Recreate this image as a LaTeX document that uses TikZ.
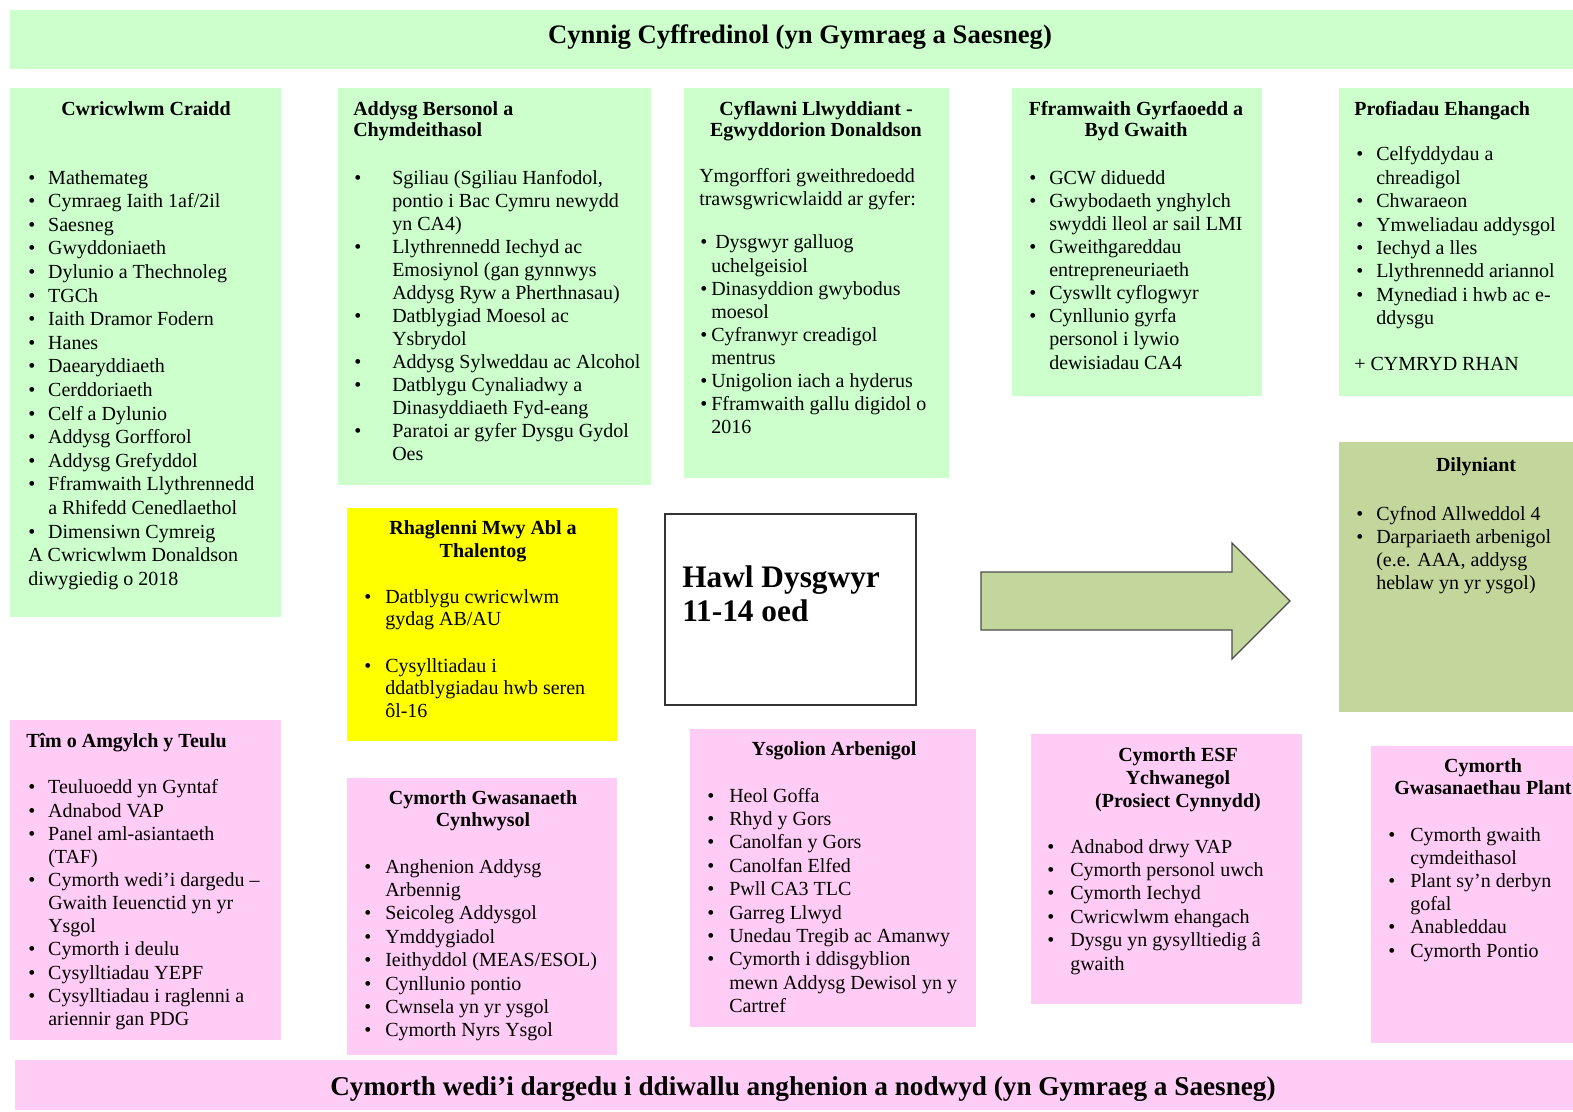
\documentclass[tikz,border=0pt]{standalone}
\usepackage{fontspec}
\setmainfont{Liberation Serif}
\newlength\px \setlength\px{0.75pt}
\newlength\bw
\newcommand\B{\makebox[\bw][l]{\textbullet}}
\newcommand\C{\hspace*{\bw}}
\newcommand\setbw[1]{\global\bw=#1\px\relax}
\definecolor{lgreen}{HTML}{CCFFCC}
\definecolor{olivegr}{HTML}{C3D69B}
\definecolor{lpink}{HTML}{FFCCF5}
\definecolor{yel}{HTML}{FFFF00}
\begin{document}
\begin{tikzpicture}[x=0.75pt,y=-0.75pt,
  box/.style={anchor=north west, inner sep=0, outer sep=0, draw=none},
  txt/.style={anchor=base west, inner sep=0, align=left, font=\fontsize{15}{#1}\selectfont},
  txt/.default=17.5,
  hd/.style={anchor=base, inner sep=0, align=center, font=\bfseries\fontsize{15}{#1}\selectfont},
  hd/.default=16,
  hdl/.style={anchor=base west, inner sep=0, align=left, font=\bfseries\fontsize{15}{#1}\selectfont},
  hdl/.default=16]
\useasboundingbox (0,0) rectangle (1573,1112);
\begin{scope}
\clip (0,0) rectangle (1573,1112);
% boxes
\node[box, fill=lgreen, minimum width=1580\px, minimum height=59\px] (b0) at (10,10) {};
\node[box, fill=lgreen, minimum width=271\px, minimum height=529\px] (b1) at (10,88) {};
\node[box, fill=lgreen, minimum width=313\px, minimum height=397\px] (b2) at (338,88) {};
\node[box, fill=lgreen, minimum width=265\px, minimum height=390\px] (b3) at (684,88) {};
\node[box, fill=lgreen, minimum width=250\px, minimum height=308\px] (b4) at (1012,88) {};
\node[box, fill=lgreen, minimum width=250\px, minimum height=308\px] (b5) at (1339,88) {};
\node[box, fill=olivegr, minimum width=250\px, minimum height=270\px] (b6) at (1339,442) {};
\node[box, fill=yel, minimum width=270\px, minimum height=233\px] (b7) at (347,508) {};
\node[box, fill=white, draw=black!80, line width=1.3\px, minimum width=251\px, minimum height=191\px] (b8) at (665,514) {};
\node[box, fill=lpink, minimum width=271\px, minimum height=320\px] (b9) at (10,720) {};
\node[box, fill=lpink, minimum width=270\px, minimum height=277\px] (b10) at (347,778) {};
\node[box, fill=lpink, minimum width=286\px, minimum height=298\px] (b11) at (690,729) {};
\node[box, fill=lpink, minimum width=271\px, minimum height=270\px] (b12) at (1031,734) {};
\node[box, fill=lpink, minimum width=230\px, minimum height=297\px] (b13) at (1371,746) {};
\node[box, fill=lpink, minimum width=1580\px, minimum height=50\px] (b14) at (15,1060) {};
% block arrow
\draw[fill=olivegr, draw=black!70, line width=1.3\px, line join=miter]
  (981,572) -- (1232,572) -- (1232,543) -- (1290,601) -- (1232,659) -- (1232,630) -- (981,630) -- cycle;
% Hawl
\node[anchor=base west, inner sep=0, align=left, font=\bfseries\fontsize{23.5}{25.5}\selectfont] (t8) at (682,621.5) {Hawl Dysgwyr\\11-14 oed};
\begin{scope}[shift={(0,2)}]
% banners
\node[anchor=base, inner sep=0, font=\bfseries\fontsize{20}{24}\selectfont] (t0) at (800,42) {Cynnig Cyffredinol (yn Gymraeg a Saesneg)};
\node[anchor=base, inner sep=0, font=\bfseries\fontsize{20.4}{24}\selectfont] (t14) at (803,1093) {Cymorth wedi’i dargedu i ddiwallu anghenion a nodwyd (yn Gymraeg a Saesneg)};
% box 1
\node[hd] (h1) at (146,114) {Cwricwlwm Craidd};
\node[txt=17.7] (l1) at (28,583.2) {\setbw{20}\B Mathemateg\\
\B Cymraeg Iaith 1af/2il\\
\B Saesneg\\
\B Gwyddoniaeth\\
\B Dylunio a Thechnoleg\\
\B TGCh\\
\B Iaith Dramor Fodern\\
\B Hanes\\
\B Daearyddiaeth\\
\B Cerddoriaeth\\
\B Celf a Dylunio\\
\B Addysg Gorfforol\\
\B Addysg Grefyddol\\
\B Fframwaith Llythrennedd\\
\C a Rhifedd Cenedlaethol\\
\B Dimensiwn Cymreig\\
A Cwricwlwm Donaldson\\
diwygiedig o 2018};
% box 2
\node[hdl=15.75] (h2) at (353,135) {Addysg Bersonol a\\Chymdeithasol};
\node[txt=17.3] (l2) at (354,458.8) {\setbw{38}\B Sgiliau (Sgiliau Hanfodol,\\
\C pontio i Bac Cymru newydd\\
\C yn CA4)\\
\B Llythrennedd Iechyd ac\\
\C Emosiynol (gan gynnwys\\
\C Addysg Ryw a Pherthnasau)\\
\B Datblygiad Moesol ac\\
\C Ysbrydol\\
\B Addysg Sylweddau ac Alcohol\\
\B Datblygu Cynaliadwy a\\
\C Dinasyddiaeth Fyd-eang\\
\B Paratoi ar gyfer Dysgu Gydol\\
\C Oes};
% box 3
\node[hd=15.75] (h3) at (816,135) {Cyflawni Llwyddiant -\\Egwyddorion Donaldson};
\node[txt=17.3] (p3) at (699,203.1) {Ymgorffori gweithredoedd\\trawsgwricwlaidd ar gyfer:};
\node[txt=17.3] (l3) at (700,431.5) {\setbw{11}\B\hspace*{4\px}Dysgwyr galluog\\
\C uchelgeisiol\\
\B Dinasyddion gwybodus\\
\C moesol\\
\B Cyfranwyr creadigol\\
\C mentrus\\
\B Unigolion iach a hyderus\\
\B Fframwaith gallu digidol o\\
\C 2016};
% box 4
\node[hd=15.75] (h4) at (1136,135) {Fframwaith Gyrfaoedd a\\Byd Gwaith};
\node[txt=17.35] (l4) at (1029,367.1) {\setbw{20}\B GCW diduedd\\
\B Gwybodaeth ynghylch\\
\C swyddi lleol ar sail LMI\\
\B Gweithgareddau\\
\C entrepreneuriaeth\\
\B Cyswllt cyflogwyr\\
\B Cynllunio gyrfa\\
\C personol i lywio\\
\C dewisiadau CA4};
% box 5
\node[hdl] (h5) at (1354,114) {Profiadau Ehangach};
\node[txt=17.55] (l5) at (1356,322.8) {\setbw{20}\B Celfyddydau a\\
\C chreadigol\\
\B Chwaraeon\\
\B Ymweliadau addysgol\\
\B Iechyd a lles\\
\B Llythrennedd ariannol\\
\B Mynediad i hwb ac e-\\
\C ddysgu};
\node[txt] (c5) at (1354,368) {+ CYMRYD RHAN};
% Dilyniant
\node[hd] (h6) at (1476,469) {Dilyniant};
\node[txt=17.3] (l6) at (1356,587.2) {\setbw{20}\B Cyfnod Allweddol 4\\
\B Darpariaeth arbenigol\\
\C (e.e. AAA, addysg\\
\C heblaw yn yr ysgol)};
% yellow
\node[hd=17.25] (h7) at (483,555) {Rhaglenni Mwy Abl a\\Thalentog};
\node[txt=16.9] (l7) at (364,715.5) {\setbw{21}\B Datblygu cwricwlwm\\
\C gydag AB/AU\\[18pt]
\B Cysylltiadau i\\
\C ddatblygiadau hwb seren\\
\C ôl-16};
% Tim
\node[hdl] (h9) at (26,745) {Tîm o Amgylch y Teulu};
\node[txt=17.35] (l9) at (28,1023.3) {\setbw{20}\B Teuluoedd yn Gyntaf\\
\B Adnabod VAP\\
\B Panel aml-asiantaeth\\
\C (TAF)\\
\B Cymorth wedi’i dargedu –\\
\C Gwaith Ieuenctid yn yr\\
\C Ysgol\\
\B Cymorth i deulu\\
\B Cysylltiadau YEPF\\
\B Cysylltiadau i raglenni a\\
\C ariennir gan PDG};
% CGC
\node[hd=17] (h10) at (483,824.7) {Cymorth Gwasanaeth\\Cynhwysol};
\node[txt=17.55] (l10) at (364,1034.8) {\setbw{21}\B Anghenion Addysg\\
\C Arbennig\\
\B Seicoleg Addysgol\\
\B Ymddygiadol\\
\B Ieithyddol (MEAS/ESOL)\\
\B Cynllunio pontio\\
\B Cwnsela yn yr ysgol\\
\B Cymorth Nyrs Ysgol};
% Ysgolion
\node[hd] (h11) at (834,753) {Ysgolion Arbenigol};
\node[txt=17.55] (l11) at (707,1010.6) {\setbw{22}\B Heol Goffa\\
\B Rhyd y Gors\\
\B Canolfan y Gors\\
\B Canolfan Elfed\\
\B Pwll CA3 TLC\\
\B Garreg Llwyd\\
\B Unedau Tregib ac Amanwy\\
\B Cymorth i ddisgyblion\\
\C mewn Addysg Dewisol yn y\\
\C Cartref};
% ESF
\node[hd=17.25] (h12) at (1178,805) {Cymorth ESF\\Ychwanegol\\(Prosiect Cynnydd)};
\node[txt=17.55] (l12) at (1047,968) {\setbw{23}\B Adnabod drwy VAP\\
\B Cymorth personol uwch\\
\B Cymorth Iechyd\\
\B Cwricwlwm ehangach\\
\B Dysgu yn gysylltiedig â\\
\C gwaith};
% Plant
\node[hd=16.5] (h13) at (1483,792) {Cymorth\\Gwasanaethau Plant};
\node[txt=17.4] (l13) at (1388,955) {\setbw{22}\B Cymorth gwaith\\
\C cymdeithasol\\
\B Plant sy’n derbyn\\
\C gofal\\
\B Anableddau\\
\B Cymorth Pontio};
\end{scope}
\end{scope}
\end{tikzpicture}
\end{document}
